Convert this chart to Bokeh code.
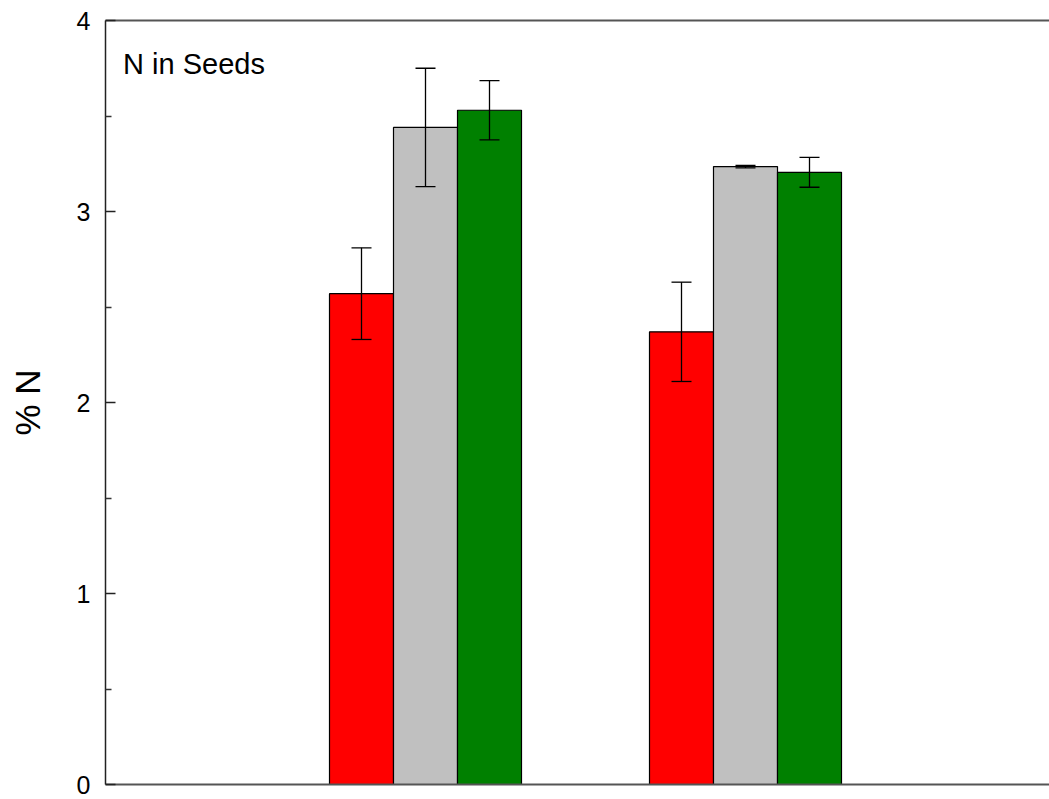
from bokeh.plotting import figure
from bokeh.models import ColumnDataSource, Whisker, TeeHead, LinearAxis, FixedTicker, Label
from bokeh.embed import file_html
from bokeh.resources import INLINE

# Data
groups = [1, 2]
series = ["Red", "Gray", "Green"]
colors = ["#ff0000", "#c0c0c0", "#008000"]
offsets = [-0.2, 0.0, 0.2]
red_vals = [2.57, 2.37]
red_err = [0.24, 0.26]
gray_vals = [3.44, 3.235]
gray_err = [0.31, 0.007]
green_vals = [3.53, 3.205]
green_err = [0.155, 0.078]
values = [red_vals, gray_vals, green_vals]
errors = [red_err, gray_err, green_err]
y_ticks = [0, 1, 2, 3, 4]

FONT = "Liberation Sans"

p = figure(width=1049, height=799, output_backend="svg", toolbar_location=None,
           x_range=(0, 2.95), y_range=(0, 4), x_axis_location=None, y_axis_location=None,
           min_border_left=105, min_border_right=0, min_border_top=20, min_border_bottom=15)
p.outline_line_color = None
p.xgrid.visible = False
p.ygrid.visible = False
p.background_fill_color = "white"
p.border_fill_color = "white"

for s, col, off, vals, errs in zip(series, colors, offsets, values, errors):
    xs = [g + off for g in groups]
    src = ColumnDataSource(dict(x=xs, top=vals,
                                lo=[v - e for v, e in zip(vals, errs)],
                                hi=[v + e for v, e in zip(vals, errs)]))
    p.vbar(x="x", top="top", bottom=0, width=0.2, source=src,
           fill_color=col, line_color="black", line_width=1.2)
    w = Whisker(base="x", lower="lo", upper="hi", source=src,
                line_color="black", line_width=1.3, level="overlay",
                upper_head=TeeHead(size=20, line_color="black", line_width=1.3),
                lower_head=TeeHead(size=20, line_color="black", line_width=1.3))
    p.add_layout(w)

# Left axis
ya = LinearAxis(ticker=FixedTicker(ticks=y_ticks, minor_ticks=[0.5, 1.5, 2.5, 3.5]))
ya.axis_label = "% N"
ya.axis_label_text_font = FONT
ya.axis_label_text_font_size = "35px"
ya.axis_label_text_font_style = "normal"
ya.axis_label_text_color = "black"
ya.axis_label_standoff = 27
ya.major_label_text_font = FONT
ya.major_label_text_font_size = "25px"
ya.major_label_text_color = "black"
ya.major_label_standoff = 15
ya.major_tick_in = 10
ya.major_tick_out = 0
ya.minor_tick_in = 6
ya.minor_tick_out = 0
ya.axis_line_color = "#222222"
ya.axis_line_width = 1.5
ya.major_tick_line_color = "#222222"
ya.minor_tick_line_color = "#333333"
ya.major_tick_line_width = 1.5
ya.minor_tick_line_width = 1.5
p.add_layout(ya, "left")

# Bottom and top lines
for loc in ["below", "above"]:
    xa = LinearAxis(ticker=FixedTicker(ticks=[]))
    xa.major_label_text_font_size = "0px"
    xa.major_tick_line_color = None
    xa.minor_tick_line_color = None
    xa.axis_line_color = "#555555"
    xa.axis_line_width = 2
    xa.major_label_standoff = 0
    p.add_layout(xa, loc)

lbl = Label(x=0.055, y=3.77, text="N in Seeds", text_font=FONT, text_font_size="29px",
            text_color="black", text_baseline="middle", text_align="left")
p.add_layout(lbl)

open("out.html", "w").write(file_html(p, INLINE))
